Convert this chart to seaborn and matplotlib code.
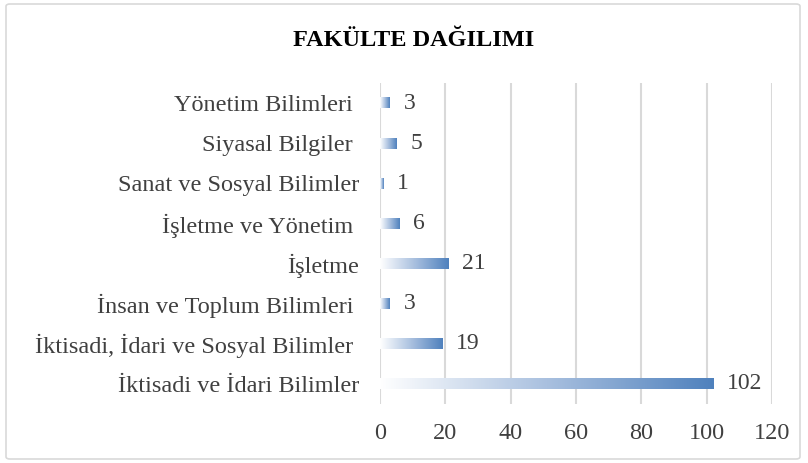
import matplotlib
matplotlib.use("Agg")
import matplotlib.pyplot as plt
import seaborn as sns
import numpy as np
import pandas as pd
from matplotlib.colors import LinearSegmentedColormap
from matplotlib.patches import FancyBboxPatch

categories = [
    "Yönetim Bilimleri ",
    "Siyasal Bilgiler ",
    "Sanat ve Sosyal Bilimler",
    "İşletme ve Yönetim ",
    "İşletme",
    "İnsan ve Toplum Bilimleri ",
    "İktisadi, İdari ve Sosyal Bilimler ",
    "İktisadi ve İdari Bilimler",
]
values = [3, 5, 1, 6, 21, 3, 19, 102]
x_ticks = [0, 20, 40, 60, 80, 100, 120]
title = "FAKÜLTE DAĞILIMI"

sns.set_theme(style="white")
plt.rcParams["font.family"] = ["Liberation Serif", "DejaVu Serif"]

df = pd.DataFrame({"cat": categories, "val": values})

fig = plt.figure(figsize=(8.08, 4.63), dpi=100)
ax = fig.add_axes([380 / 808, 1 - 404 / 463, 392 / 808, 321 / 463])

sns.barplot(data=df, x="val", y="cat", ax=ax, orient="h", width=0.27,
            color="#4F81BD", saturation=1, edgecolor="none")

cmap = LinearSegmentedColormap.from_list("g", ["#FFFFFF", "#A9C0DF", "#4F81BD"])
grad = np.linspace(0, 1, 256).reshape(1, -1)
for p in ax.patches:
    x0, y0 = p.get_x(), p.get_y()
    w, h = p.get_width(), p.get_height()
    p.set_facecolor("none")
    ax.imshow(grad, cmap=cmap, aspect="auto", extent=[x0, x0 + w, y0 + h, y0],
              zorder=3, interpolation="bilinear")

ax.set_xlim(0, 120)
ax.set_ylim(len(categories) - 0.5, -0.5)
ax.set_xticks(x_ticks)
ax.set_xticklabels([str(t) for t in x_ticks])
ax.grid(axis="x", color="#D9D9D9", linewidth=1.5, zorder=0)
ax.set_axisbelow(True)
for s in ax.spines.values():
    s.set_visible(False)
ax.set_xlabel("")
ax.set_ylabel("")
ax.tick_params(axis="both", length=0, labelsize=17.5, labelcolor="#404040")
ax.tick_params(axis="y", pad=15)
ax.tick_params(axis="x", pad=14)

for i, v in enumerate(values):
    ax.annotate(str(v), xy=(v, i), xytext=(10, 0), textcoords="offset points",
                ha="left", va="center", fontsize=17, color="#404040")

fig.text(414 / 808, 1 - 40 / 463, title, ha="center", va="center",
         fontsize=17.5, fontweight="bold", color="#000000")

border = FancyBboxPatch((6 / 808, 4 / 463), 794 / 808, 455 / 463,
                        boxstyle="round,pad=0,rounding_size=0.005",
                        transform=fig.transFigure, facecolor="none",
                        edgecolor="#D9D9D9", linewidth=1.2)
fig.patches.append(border)

fig.savefig("out.png", dpi=100)
